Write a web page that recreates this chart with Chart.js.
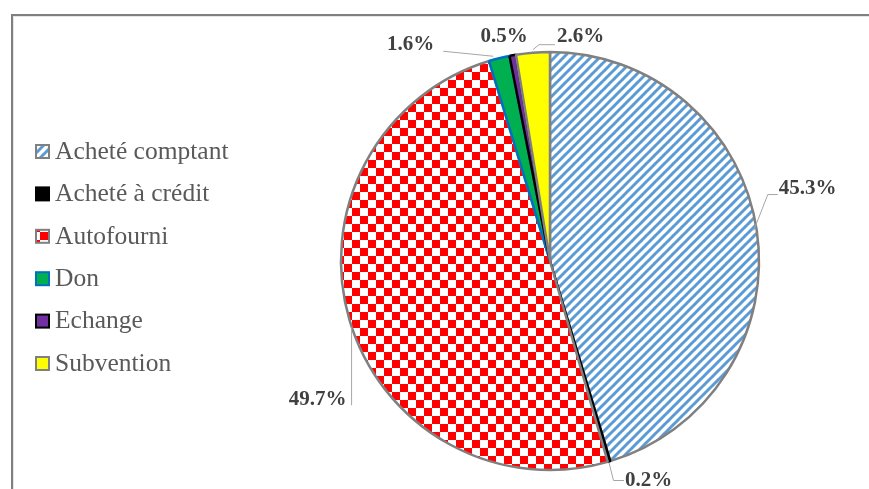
<!DOCTYPE html>
<html><head><meta charset="utf-8">
<script src="https://cdn.jsdelivr.net/npm/chart.js@4.4.1/dist/chart.umd.min.js"></script>
<style>html,body{margin:0;padding:0;background:#fff;overflow:hidden}canvas{display:block}
.fl{position:absolute;left:-999px;top:0;font-family:"Liberation Serif";}</style>
</head><body>
<div class="fl">Acheté <b>49.7%</b></div>
<canvas id="c" width="869" height="489"></canvas>
<script>
// ---- data ----
const categories = ['Acheté comptant', 'Acheté à crédit', 'Autofourni', 'Don', 'Echange', 'Subvention'];
const shares = [45.3, 0.2, 49.7, 1.6, 0.5, 2.6];

// ---- styles ----
const SERIF = '"Liberation Serif", "Times New Roman", serif';
function stripePattern() {
  const s = 9, cv = document.createElement('canvas');
  cv.width = s; cv.height = s;
  const g = cv.getContext('2d');
  g.fillStyle = '#fff'; g.fillRect(0, 0, s, s);
  g.strokeStyle = '#5b9bd5'; g.lineWidth = 3;
  [-s, 0, s].forEach((ox) => {
    g.beginPath(); g.moveTo(ox - 1, s + 1); g.lineTo(ox + s + 1, -1); g.stroke();
  });
  return g.createPattern(cv, 'repeat');
}
function checkerPattern() {
  const q = 8, cv = document.createElement('canvas');
  cv.width = q * 2; cv.height = q * 2;
  const g = cv.getContext('2d');
  g.fillStyle = '#fff'; g.fillRect(0, 0, q * 2, q * 2);
  g.fillStyle = '#ff0000';
  g.fillRect(0, 0, q, q); g.fillRect(q, q, q, q);
  return g.createPattern(cv, 'repeat');
}
const fills = [stripePattern(), '#000000', checkerPattern(), '#00b050', '#7030a0', '#ffff00'];
const borders = ['#808080', '#000000', '#808080', '#0070c0', '#000000', '#808080'];

// label offsets relative to the outer midpoint of each slice
const labelLayout = [
  { text: [22, -42], align: 'left', line: [[-3, 0], [11, -36], [21, -36]] },
  { text: [16, 19], align: 'left', line: [[0, 1], [4.5, 19], [15, 19]] },
  { text: [-3, 79], align: 'right', line: [[2, 7], [2, 85]] },
  { text: [-65, -14], align: 'right', line: [[-6, -2], [-56, -7]] },
  { text: [-8.5, -18.6], align: 'center', line: null },
  { text: [24, -16], align: 'left', line: [[0, -3], [6, -8], [22, -8]] }
];

const framePlugin = {
  id: 'frame',
  beforeDraw(chart) {
    const ctx = chart.ctx;
    ctx.save();
    ctx.fillStyle = '#808080';
    ctx.fillRect(11, 14, chart.width - 11, 2);
    ctx.fillRect(11, 14, 2, chart.height - 14);
    ctx.fillStyle = '#e6e6e6';
    ctx.fillRect(13, 16, chart.width - 13, 1);
    ctx.fillRect(13, 16, 1, chart.height - 16);
    ctx.restore();
  }
};

const labelPlugin = {
  id: 'pctLabels',
  afterDatasetsDraw(chart) {
    const ctx = chart.ctx;
    const meta = chart.getDatasetMeta(0);
    const vals = chart.data.datasets[0].data;
    ctx.save();
    meta.data.forEach((arc, i) => {
      const p = arc.getProps(['x', 'y', 'startAngle', 'endAngle', 'outerRadius'], true);
      const mid = (p.startAngle + p.endAngle) / 2;
      const mx = p.x + Math.cos(mid) * p.outerRadius;
      const my = p.y + Math.sin(mid) * p.outerRadius;
      const L = labelLayout[i];
      if (L.line) {
        ctx.strokeStyle = '#a6a6a6';
        ctx.lineWidth = 1;
        ctx.beginPath();
        L.line.forEach(([dx, dy], k) => {
          if (k === 0) ctx.moveTo(mx + dx, my + dy); else ctx.lineTo(mx + dx, my + dy);
        });
        ctx.stroke();
      }
      ctx.fillStyle = '#404040';
      ctx.font = 'bold 21px ' + SERIF;
      ctx.textAlign = L.align;
      ctx.textBaseline = 'middle';
      ctx.fillText(vals[i].toFixed(1) + '%', mx + L.text[0], my + L.text[1]);
    });
    ctx.restore();
  }
};

const legendPlugin = {
  id: 'sideLegend',
  afterDraw(chart) {
    const ctx = chart.ctx;
    const ds = chart.data.datasets[0];
    ctx.save();
    chart.data.labels.forEach((lab, i) => {
      const cy = 152 + i * 42.4;
      ctx.fillStyle = ds.backgroundColor[i];
      ctx.fillRect(36, cy - 7, 13, 13);
      ctx.strokeStyle = ds.borderColor[i];
      ctx.lineWidth = 2;
      ctx.strokeRect(36, cy - 7, 13, 13);
      ctx.fillStyle = '#595959';
      ctx.font = '25.5px ' + SERIF;
      ctx.textAlign = 'left';
      ctx.textBaseline = 'middle';
      ctx.fillText(lab, 55, cy);
    });
    ctx.restore();
  }
};

function build() {
  new Chart(document.getElementById('c'), {
    type: 'pie',
    data: {
      labels: categories,
      datasets: [{
        data: shares,
        backgroundColor: fills,
        borderColor: borders,
        borderWidth: 2.5,
        radius: 209,
        clip: false
      }]
    },
    options: {
      responsive: false,
      animation: false,
      layout: { padding: { left: 340, right: 109, top: 52, bottom: 19 } },
      plugins: { legend: { display: false }, tooltip: { enabled: false } }
    },
    plugins: [framePlugin, labelPlugin, legendPlugin]
  });
}
let built = false;
function go() { if (!built) { built = true; build(); } }
if (document.fonts && document.fonts.load) {
  Promise.all([
    document.fonts.load('25px "Liberation Serif"'),
    document.fonts.load('bold 21px "Liberation Serif"')
  ]).then(go, go);
  setTimeout(go, 1500);
} else { go(); }
</script>
</body></html>
